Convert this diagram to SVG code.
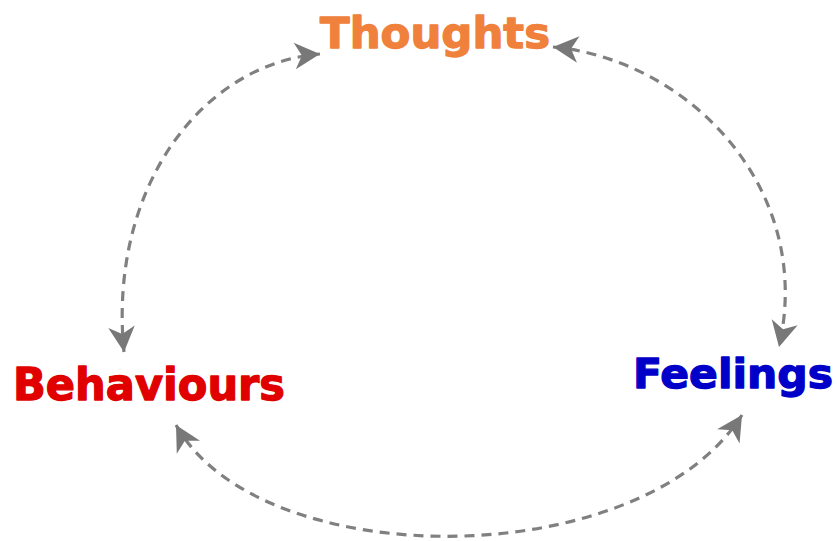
<svg xmlns="http://www.w3.org/2000/svg" width="837" height="541" viewBox="0 0 837 541">
  <style>
    .label { font-family: "DejaVu Sans", Verdana, sans-serif; font-weight: bold; stroke-width: 1.3; stroke-linejoin: round; }
    .conn { fill: none; stroke: #808080; stroke-width: 3.2; stroke-dasharray: 10 7; }
  </style>
  <defs>
    <marker id="arrow" viewBox="0 0 24 24" refX="22" refY="12" markerWidth="29" markerHeight="29" markerUnits="userSpaceOnUse" orient="auto-start-reverse">
      <path d="M 22 12 L 1 1 L 7 12 L 1 23 Z" fill="#787878"/>
    </marker>
  </defs>
  <rect width="837" height="541" fill="#ffffff"/>
  <g id="connectors">
    <path class="conn" d="M 124 352 C 108 190 200 64 320 54" marker-start="url(#arrow)" marker-end="url(#arrow)"/>
    <path class="conn" d="M 553 47 C 690 60 815 190 779 347" marker-start="url(#arrow)" marker-end="url(#arrow)"/>
    <path class="conn" d="M 176 425 C 260 575 640 575 742 415" marker-start="url(#arrow)" marker-end="url(#arrow)"/>
  </g>
  <g id="thoughts">
    <text class="label" x="320" y="48" font-size="43" fill="#F0813C" stroke="#F0813C" textLength="230" lengthAdjust="spacingAndGlyphs">Thoughts</text>
  </g>
  <g id="behaviours">
    <text class="label" x="13" y="400" font-size="44" fill="#E00000" stroke="#E00000" textLength="272" lengthAdjust="spacingAndGlyphs">Behaviours</text>
  </g>
  <g id="feelings">
    <text class="label" x="633" y="388" font-size="41" fill="#0000C8" stroke="#0000C8" textLength="200" lengthAdjust="spacingAndGlyphs">Feelings</text>
  </g>
</svg>
